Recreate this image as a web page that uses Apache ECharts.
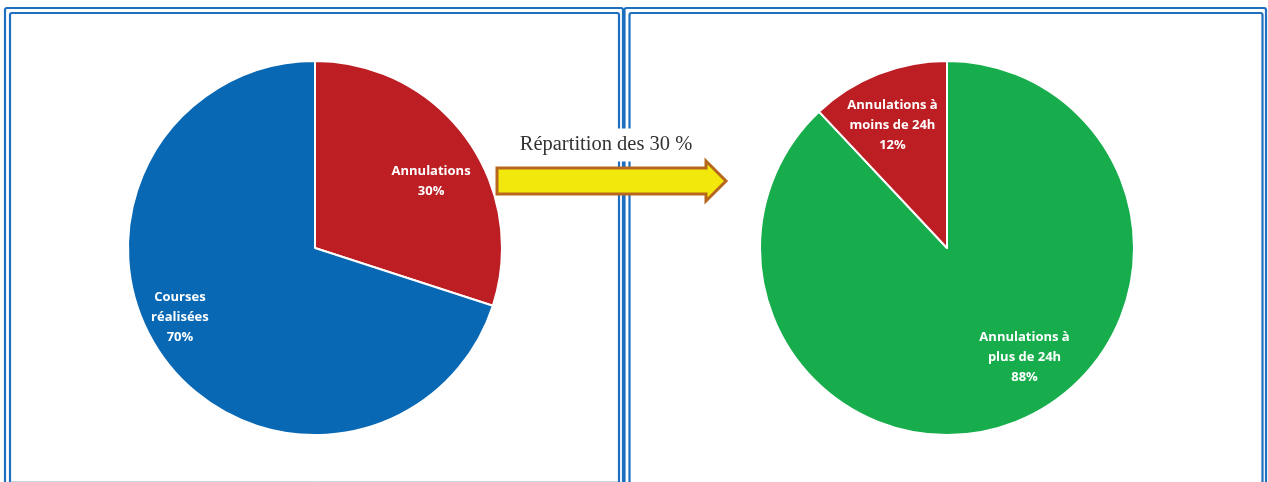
<!DOCTYPE html>
<html><head><meta charset="utf-8">
<script src="https://cdn.jsdelivr.net/npm/echarts@6/dist/echarts.min.js"></script>
<style>html,body{margin:0;padding:0;background:#fff}#c{width:1268px;height:482px}</style>
</head><body><div id="c"></div>
<script>
const leftCategories = ['Annulations', 'Courses\nréalisées'];
const leftValues = [30, 70];
const rightCategories = ['Annulations à\nplus de 24h', 'Annulations à\nmoins de 24h'];
const rightValues = [88, 12];
const arrowLabel = 'Répartition des 30 %';

const RED = '#BD1E24', BLUE = '#0868B4', GREEN = '#17AD4C';
const chart = echarts.init(document.getElementById('c'), null, {renderer: 'canvas'});

const labelStyle = {
  show: true, position: 'inside', color: '#fff', fontFamily: 'Open Sans', fontWeight: 'bold',
  fontSize: 13, lineHeight: 20, formatter: p => p.name + '\n' + p.value + '%'
};

function frame(x, y, w, h) {
  return {type: 'rect', shape: {x: x, y: y, width: w, height: h, r: 2}, z: 0,
    style: {fill: null, stroke: '#1E6FC0', lineWidth: 2.2}};
}

const leftOffsets = [[38, -10], [-57, 13]];
const rightOffsets = [[42, 20], [-19, -33]];

chart.setOption({
  animation: false,
  backgroundColor: '#fff',
  graphic: [
    frame(5, 8, 618, 520), frame(10, 13, 609, 520),
    frame(624.5, 8, 641.5, 520), frame(629.5, 13, 633, 520),
    {type: 'line', shape: {x1: 11, y1: 481.5, x2: 618, y2: 481.5}, style: {stroke: '#C9D6E4', lineWidth: 1}, z: 1},
    {type: 'text', x: 606, y: 145, z: 10,
      style: {text: arrowLabel, fontFamily: 'Liberation Serif', fontSize: 20.5, fill: '#333',
        align: 'center', verticalAlign: 'middle', backgroundColor: '#fff', padding: [6, 6]}},
    {type: 'polygon', z: 10,
      shape: {points: [[497, 168], [706, 168], [706, 161], [726, 181], [706, 201], [706, 194], [497, 194]]},
      style: {fill: '#F3E80C', stroke: '#B7661E', lineWidth: 3, lineJoin: 'miter'}}
  ],
  series: [
    {type: 'pie', center: [315, 248], radius: [0, 187], startAngle: 90, clockwise: true,
      data: leftCategories.map((n, i) => ({name: n, value: leftValues[i],
        itemStyle: {color: i === 0 ? RED : BLUE}})),
      itemStyle: {borderColor: '#fff', borderWidth: 2},
      label: labelStyle, labelLine: {show: false}, emphasis: {disabled: true},
      labelLayout: p => ({dx: leftOffsets[p.dataIndex][0], dy: leftOffsets[p.dataIndex][1]})},
    {type: 'pie', center: [947, 248], radius: [0, 187], startAngle: 90, clockwise: true,
      data: rightCategories.map((n, i) => ({name: n, value: rightValues[i],
        itemStyle: {color: i === 0 ? GREEN : RED}})),
      itemStyle: {borderColor: '#fff', borderWidth: 2},
      label: labelStyle, labelLine: {show: false}, emphasis: {disabled: true},
      labelLayout: p => ({dx: rightOffsets[p.dataIndex][0], dy: rightOffsets[p.dataIndex][1]})}
  ]
});
</script></body></html>
